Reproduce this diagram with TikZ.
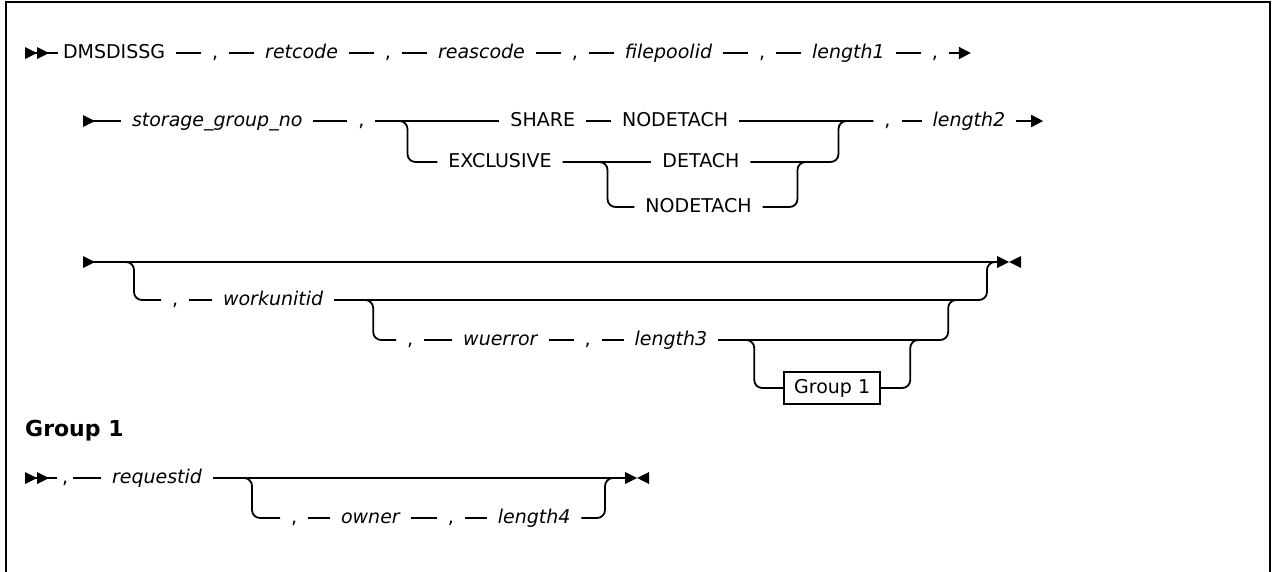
\documentclass[tikz,border=0pt]{standalone}
\usepackage{fontspec}
\setmainfont{DejaVu Sans}
\usepackage{tikz}
\usetikzlibrary{arrows.meta,positioning,calc}
\newcommand{\railfont}{\fontsize{19}{23}\selectfont}
\tikzstyle{kw}=[anchor=west, inner sep=0pt, outer xsep=11pt, text height=14pt,
text depth=4pt, font=\railfont]
\tikzstyle{prm}=[kw, font=\railfont\itshape]
\tikzstyle{grpref}=[anchor=west, draw, line width=1.8pt, inner xsep=10pt,
inner ysep=7pt, text height=14pt, text depth=4pt, font=\railfont]
\tikzstyle{head}=[anchor=west, inner sep=0pt, font=\fontsize{22}{26}\selectfont\bfseries]
\tikzstyle{rail}=[draw, line width=1.8pt, rounded corners=8pt]
\tikzstyle{more}=[rail, -{Triangle[length=12pt,width=12pt]}]
\newcommand{\kwd}[2]{node (#1)[kw]{#2}}
\newcommand{\prm}[2]{node (#1)[prm]{#2}}
% start and stop marks on a rail
\newcommand{\tright}[1]{\fill (#1) -- ++(0,6) -- ++(12,-6) -- ++(-12,-6) -- cycle;}
\newcommand{\tleft}[1]{\fill (#1) -- ++(0,6) -- ++(-12,-6) -- ++(12,-6) -- cycle;}

\begin{document}
\begin{tikzpicture}[x=1pt,y=-1pt]
		\useasboundingbox (0,0) rectangle (1274,571);
		\draw[line width=2.2pt] (6,580) -- (6,2) -- (1270,2) -- (1270,580);
		
		% first line of the call
		\coordinate (s1) at (25,53);
		\path (s1)+(33,0) node (a1)[kw, outer xsep=5pt]{DMSDISSG};
		\path (a1.east)+(31,0) \kwd{a2}{,};
		\path (a2.east)+(25,0) \prm{a3}{retcode};
		\path (a3.east)+(25,0) \kwd{a4}{,};
		\path (a4.east)+(25,0) \prm{a5}{reascode};
		\path (a5.east)+(25,0) \kwd{a6}{,};
		\path (a6.east)+(25,0) \prm{a7}{filepoolid};
		\path (a7.east)+(25,0) \kwd{a8}{,};
		\path (a8.east)+(25,0) \prm{a9}{length1};
		\path (a9.east)+(25,0) \kwd{a10}{,};
		\path (a10.east)+(22,0) coordinate (e1);
		
		% second line, SHARE / EXCLUSIVE choice
		\coordinate (s2) at (83,121);
		\path (s2)+(38,0) \prm{b1}{storage\_group\_no};
		\path (b1.east)+(34,0) \kwd{b2}{,};
		\path (b2.east)+(32,0) coordinate (c1);
		\path (c1)+(92,0) \kwd{b3}{SHARE};
		\path (b3.east)+(25,0) \kwd{b4}{NODETACH};
		\path (c1)+(431,0) coordinate (c2);
		\path (c2)+(35,0) \kwd{b5}{,};
		\path (b5.east)+(20,0) \prm{b6}{length2};
		\path (b6.east)+(27,0) coordinate (e2);
		\path (c1)+(30,41) \kwd{b7}{EXCLUSIVE};
		\path (c1)+(200,41) coordinate (c3);
		\path (c3)+(44,0) \kwd{b8}{DETACH};
		\path (c3)+(27,45) \kwd{b9}{NODETACH};
		\path (c3)+(190,0) coordinate (c4);
		\path (c2 |- c4)+(-9,0) coordinate (j1);
		
		% third line, optional work unit part
		\coordinate (s3) at (83,262);
		\path (s3)+(51,0) coordinate (c5);
		\path (c5)+(853,0) coordinate (c7);
		\path (c5)+(863,0) coordinate (t3);
		\path (c5)+(27,38) \kwd{d1}{,};
		\path (d1.east)+(23,0) \prm{d2}{workunitid};
		\path (d2.east)+(39,0) coordinate (c6);
		\path (c6)+(575,0) coordinate (c9);
		\path (c7 |- c9)+(-9,0) coordinate (j2);
		\path (c6)+(23,40) \kwd{f1}{,};
		\path (f1.east)+(28,0) \prm{f2}{wuerror};
		\path (f2.east)+(25,0) \kwd{f3}{,};
		\path (f3.east)+(22,0) \prm{f4}{length3};
		\path (f4.east)+(36,0) coordinate (c8);
		\path (c8)+(156,0) coordinate (c10);
		\path (c9 |- c10)+(-9,0) coordinate (j3);
		\path (c8)+(29,48) node (g1)[grpref]{Group 1};
		
		% Group 1
		\node (h1)[head] at (25,431) {Group 1};
		\coordinate (s4) at (25,478);
		\path (s4)+(32,0) node (k1)[kw, outer xsep=5pt]{,};
		\path (k1.east)+(28,0) \prm{k2}{requestid};
		\path (k2.east)+(39,0) coordinate (c11);
		\path (c11)+(353,0) coordinate (c12);
		\path (c11)+(373,0) coordinate (t4);
		\path (c11)+(28,40) \kwd{m1}{,};
		\path (m1.east)+(22,0) \prm{m2}{owner};
		\path (m2.east)+(26,0) \kwd{m3}{,};
		\path (m3.east)+(22,0) \prm{m4}{length4};
		
		% Draw rails
		\path [rail] (s1) -- (a1);
		\path [rail, shorten <=6pt] (a1) -- (a2);
		\path [rail] (a2) -- (a3);
		\path [rail] (a3) -- (a4);
		\path [rail] (a4) -- (a5);
		\path [rail] (a5) -- (a6);
		\path [rail] (a6) -- (a7);
		\path [rail] (a7) -- (a8);
		\path [rail] (a8) -- (a9);
		\path [rail] (a9) -- (a10);
		\path [more] (a10) -- (e1);
		
		\path [rail] (s2) -- (b1);
		\path [rail] (b1) -- (b2);
		\path [rail] (b2) -- (b3);
		\path [rail] (b3) -- (b4);
		\path [rail] (b4) -- (b5);
		\path [rail] (b5) -- (b6);
		\path [more] (b6) -- (e2);
		\path [rail] (b2) -- (c1) |- (b7);
		\path [rail] (b7) -- (b8);
		\path [rail] (b8) -| (c2) -- (b5);
		\path [rail] (b7) -- (c3) |- (b9);
		\path [rail] (b9) -| (c4) -- (j1);
		
		\path [rail] (s3) -- (t3);
		\path [rail] (s3) -- (c5) |- (d1);
		\path [rail] (d1) -- (d2);
		\path [rail] (d2) -| (c7) -- (t3);
		\path [rail] (d2) -- (c6) |- (f1);
		\path [rail] (f1) -- (f2);
		\path [rail] (f2) -- (f3);
		\path [rail] (f3) -- (f4);
		\path [rail] (f4) -| (c9) -- (j2);
		\path [rail] (f4) -- (c8) |- (g1);
		\path [rail] (g1) -| (c10) -- (j3);
		
		\path [rail] (s4) -- (k1);
		\path [rail] (k1) -- (k2);
		\path [rail] (k2) -- (t4);
		\path [rail] (k2) -- (c11) |- (m1);
		\path [rail] (m1) -- (m2);
		\path [rail] (m2) -- (m3);
		\path [rail] (m3) -- (m4);
		\path [rail] (m4) -| (c12) -- (t4);
		
		% start and end marks
		\tright{s1} \tright{$(s1)+(12,0)$}
		\tright{s2}
		\tright{s3} \tright{t3} \tleft{$(t3)+(24,0)$}
		\tright{s4} \tright{$(s4)+(12,0)$}
		\tright{t4} \tleft{$(t4)+(24,0)$}
\end{tikzpicture}
\end{document}
